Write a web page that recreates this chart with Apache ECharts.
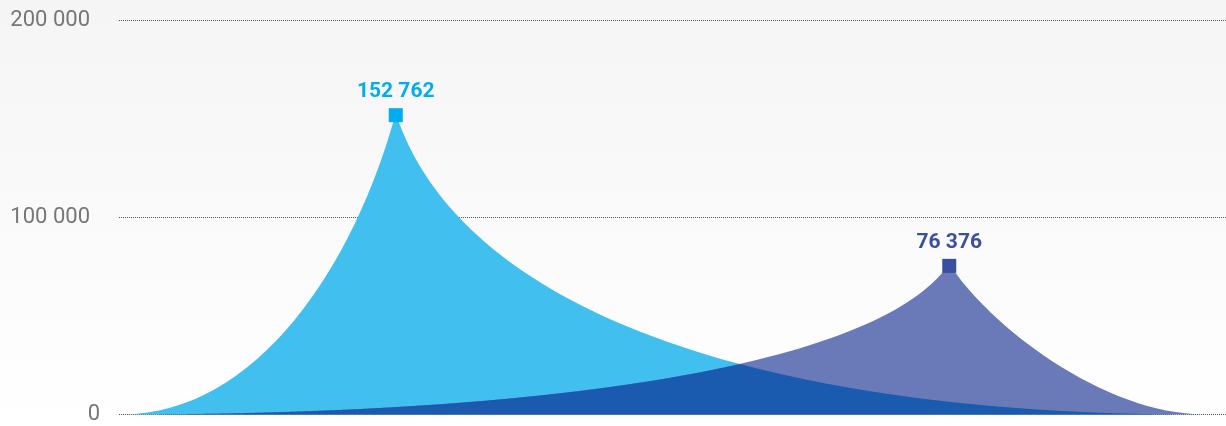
<!DOCTYPE html>
<html><head><meta charset="utf-8">
<script src="https://cdn.jsdelivr.net/npm/echarts@6/dist/echarts.min.js"></script>
<style>html,body{margin:0;padding:0;background:#fff;} #c{width:1226px;height:426px;}</style>
</head><body><div id="c"></div>
<script>
// ---- data ----
const categories = ['A', 'B'];
const peakValues = [152762, 76376];
const yMin = 0, yMax = 200000, yStep = 100000;

// ---- styles ----
const markerColors = ['#00AEEF', '#3A4FA0'];
const fillColors = ['#41BFEE', '#6A7AB8'];
const overlapColor = '#1A5BB0';
// extents in category-band units; bezier control points as [u1,v1,u2,v2] from base toward tip
const spikeShapes = [
  { left: 0.497, right: 1.448, l: [0.5, 0, 0.85, 0.5], r: [0.55, 0, 0.92, 0.35] },
  { left: 1.497, right: 0.462, l: [0.55, 0, 0.92, 0.35], r: [0.4, 0, 0.85, 0.6] }
];
const FONT = 'Roboto, "Noto Sans", sans-serif';
const AXIS_COLOR = '#777';

function fmt(v) { return String(v).replace(/\B(?=(\d{3})+(?!\d))/g, ' '); }

// geometry of one spike in pixel space, computed through the chart's axes
function spikeGeom(i, api) {
  const s = spikeShapes[i];
  const tip = api.coord([i, peakValues[i]]);
  const base = api.coord([i, 0]);
  const band = api.size([1, 0])[0];
  const y0 = base[1], h = y0 - tip[1];
  const wl = s.left * band, wr = s.right * band;
  const xl = tip[0] - wl, xr = tip[0] + wr;
  const L = s.l, R = s.r;
  const left = [[xl, y0], [xl + L[0] * wl, y0 - L[1] * h], [xl + L[2] * wl, y0 - L[3] * h], [tip[0], tip[1]]];
  const right = [[tip[0], tip[1]], [xr - R[2] * wr, y0 - R[3] * h], [xr - R[0] * wr, y0 - R[1] * h], [xr, y0]];
  return { xl, xr, y0, tip, left, right };
}
function pathOf(g) {
  const n = v => v.toFixed(2);
  const pt = p => n(p[0]) + ',' + n(p[1]);
  return 'M' + pt(g.left[0]) + 'C' + pt(g.left[1]) + ',' + pt(g.left[2]) + ',' + pt(g.left[3]) +
    'C' + pt(g.right[1]) + ',' + pt(g.right[2]) + ',' + pt(g.right[3]) + 'Z';
}
function bez(c, t) {
  const a = (1 - t) * (1 - t) * (1 - t), b = 3 * (1 - t) * (1 - t) * t, d = 3 * (1 - t) * t * t, e = t * t * t;
  return [a * c[0][0] + b * c[1][0] + d * c[2][0] + e * c[3][0], a * c[0][1] + b * c[1][1] + d * c[2][1] + e * c[3][1]];
}
function outline(g) {
  const pts = [];
  const N = 400;
  for (let k = 0; k <= N; k++) pts.push(bez(g.left, k / N));
  for (let k = 1; k <= N; k++) pts.push(bez(g.right, k / N));
  return pts;
}
function yAt(pts, x, y0) {
  if (x <= pts[0][0] || x >= pts[pts.length - 1][0]) return y0;
  for (let k = 1; k < pts.length; k++) {
    if (pts[k][0] >= x) {
      const p = pts[k - 1], q = pts[k];
      const t = q[0] === p[0] ? 0 : (x - p[0]) / (q[0] - p[0]);
      return p[1] + t * (q[1] - p[1]);
    }
  }
  return y0;
}

function renderSpike(params, api) {
  const i = params.dataIndex;
  const g = spikeGeom(i, api);
  const main = { type: 'path', shape: { pathData: pathOf(g) }, style: { fill: fillColors[i] } };
  if (i === 0) return main;
  // overlap region of both spikes (multiplied colour)
  const g0 = spikeGeom(0, api);
  const o0 = outline(g0), o1 = outline(g);
  const x0 = Math.max(g0.xl, g.xl), x1 = Math.min(g0.xr, g.xr);
  const poly = [[x0, g.y0]];
  for (let x = x0; x <= x1; x += 0.5) {
    poly.push([x, Math.max(yAt(o0, x, g.y0), yAt(o1, x, g.y0))]);
  }
  poly.push([x1, g.y0]);
  return {
    type: 'group',
    children: [main, { type: 'polygon', shape: { points: poly }, style: { fill: overlapColor } }]
  };
}

const chart = echarts.init(document.getElementById('c'), null, { renderer: 'canvas' });
chart.setOption({
  animation: false,
  backgroundColor: {
    type: 'linear', x: 0, y: 0, x2: 0, y2: 1,
    colorStops: [{ offset: 0, color: '#f5f5f5' }, { offset: 1, color: '#ffffff' }]
  },
  grid: { left: 119, right: -3, top: 20, bottom: 11.5, containLabel: false },
  xAxis: {
    type: 'category',
    data: categories,
    axisLine: { show: false },
    axisTick: { show: false },
    axisLabel: { show: false },
    splitLine: { show: false }
  },
  yAxis: {
    type: 'value',
    min: yMin, max: yMax, interval: yStep,
    axisLine: { show: false },
    axisTick: { show: false },
    splitLine: { show: true, lineStyle: { color: '#555', type: [1, 1], width: 1 } },
    axisLabel: {
      margin: 19,
      align: 'right',
      fontSize: 22,
      color: AXIS_COLOR,
      fontFamily: FONT,
      formatter: v => v === 0 ? '{z|0}' : '{n|' + fmt(v) + '}',
      rich: {
        n: { padding: [0, 10, 0, 0], fontSize: 22, color: AXIS_COLOR, fontFamily: FONT },
        z: { fontSize: 22, color: AXIS_COLOR, fontFamily: FONT }
      }
    }
  },
  series: [
    {
      type: 'custom',
      renderItem: renderSpike,
      encode: { x: 0, y: 1 },
      data: peakValues.map((v, i) => [i, v]),
      z: 2,
      silent: true
    },
    {
      type: 'scatter',
      symbol: 'rect',
      symbolSize: 14,
      symbolOffset: [0, 2],
      z: 3,
      itemStyle: { opacity: 1 },
      data: peakValues.map((v, i) => ({
        value: [i, v],
        itemStyle: { color: markerColors[i], opacity: 1 },
        label: { color: markerColors[i] }
      })),
      label: {
        show: true,
        position: 'top',
        distance: 6,
        fontSize: 21,
        fontWeight: 'bold',
        fontFamily: FONT,
        formatter: p => fmt(p.value[1])
      }
    }
  ]
});
</script>
</body></html>
